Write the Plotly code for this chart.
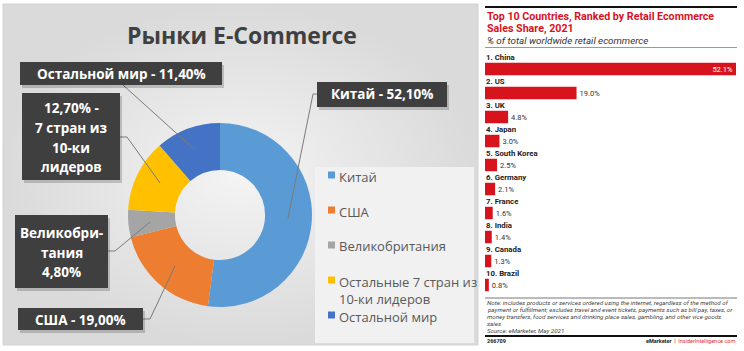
import plotly.graph_objects as go

W, H = 744, 351

# ---------------- data ----------------
pie_labels = ['Китай', 'США', 'Великобритания', 'Остальные 7 стран из 10-ки лидеров', 'Остальной мир']
pie_shares = [52.1, 19.0, 4.8, 12.7, 11.4]
pie_colors = ['#5B9BD5', '#ED7D31', '#A5A5A5', '#FFC000', '#4472C4']
legend_texts = ['Китай', 'США', 'Великобритания', 'Остальные 7 стран из<br>10-ки лидеров', 'Остальной мир']

def pct(v):
    return f"{v:.2f}".replace('.', ',') + '%'

callout_lines = [
    [f'Китай - {pct(pie_shares[0])}'],
    [f'США - {pct(pie_shares[1])}'],
    ['Великобри-', 'тания', pct(pie_shares[2])],
    [f'{pct(pie_shares[3])} -', '7 стран из', '10-ки', 'лидеров'],
    [f'Остальной мир - {pct(pie_shares[4])}'],
]

countries = ['China', 'US', 'UK', 'Japan', 'South Korea', 'Germany', 'France', 'India', 'Canada', 'Brazil']
bar_values = [52.1, 19.0, 4.8, 3.0, 2.5, 2.1, 1.6, 1.4, 1.3, 0.8]

note_lines = [
    'Note: includes products or services ordered using the internet, regardless of the method of',
    'payment or fulfillment; excludes travel and event tickets, payments such as bill pay, taxes, or',
    'money transfers, food services and drinking place sales, gambling, and other vice goods',
    'sales',
    'Source: eMarketer, May 2021',
]

# ---------------- layout helpers (pixel -> paper) ----------------
def px(x):
    return x / W

def py(y):
    return 1 - y / H

FONT = 'Open Sans'
RFONT = 'Roboto'
RED = '#D7141E'

fig = go.Figure()

# background panel with radial gradient (pixel coordinate axes x2/y2)
fig.add_trace(go.Scatter(
    x=[3, 478, 478, 3, 3], y=[4, 4, 345, 345, 4], xaxis='x2', yaxis='y2',
    mode='lines', line=dict(width=1, color='#d2d2d2'), fill='toself',
    fillgradient=dict(type='radial', colorscale=[[0, '#f4f4f4'], [1, '#dadada']]),
    hoverinfo='skip', showlegend=False))

# bars
fig.add_trace(go.Bar(
    x=bar_values, y=list(range(len(countries))), orientation='h',
    marker=dict(color=RED, line=dict(width=0)), width=0.52,
    text=[f'{v:.1f}%' for v in bar_values],
    textposition=['inside'] + ['outside'] * (len(bar_values) - 1),
    insidetextanchor='end', textangle=0, constraintext='none',
    textfont=dict(family=RFONT, size=7.5, color=['white'] + ['#333333'] * (len(bar_values) - 1)),
    cliponaxis=False, showlegend=False, hoverinfo='skip'))

# donut
fig.add_trace(go.Pie(
    labels=pie_labels, values=pie_shares, hole=0.49, sort=False, direction='clockwise',
    rotation=0, marker=dict(colors=pie_colors, line=dict(width=0)), textinfo='none',
    domain=dict(x=[px(128), px(312)], y=[py(307), py(123)]), showlegend=False, hoverinfo='skip'))

shapes = []
annotations = []

# legend box (lighter)
shapes.append(dict(type='rect', xref='paper', yref='paper', x0=px(315), x1=px(474), y0=py(343), y1=py(167),
                   fillcolor='#f1f1f1', line=dict(width=0), layer='above'))

# title
annotations.append(dict(text='<b>Рынки E-Commerce</b>', x=px(242), y=py(35), xref='paper', yref='paper',
                        showarrow=False, font=dict(family=FONT, size=23, color='#404040'),
                        xanchor='center', yanchor='middle'))

# legend entries
legend_y = [175, 210, 245, 280, 315]
for i, (t, c) in enumerate(zip(legend_texts, pie_colors)):
    yc = legend_y[i]
    shapes.append(dict(type='rect', xref='paper', yref='paper', x0=px(328), x1=px(335), y0=py(yc + 3.5), y1=py(yc - 3.5),
                       fillcolor=c, line=dict(width=0), layer='above'))
    annotations.append(dict(text=t, x=px(337), y=py(yc - 9.5), xref='paper', yref='paper', showarrow=False,
                            xanchor='left', yanchor='top', align='left',
                            font=dict(family=FONT, size=13, color='#595959')))

# callout boxes
boxes = [(317, 82, 447, 107), (18, 308, 143, 330), (15, 215, 108, 288), (22, 93, 120, 180), (20, 62, 222, 85)]
line_ys = [[94.5], [319.5], [233, 252.5, 272], [108, 128, 148, 167], [73.5]]
leaders = [
    [(317, 94), (313, 94), (288, 218)],
    [(143, 319), (150, 319), (175, 266)],
    [(108, 251), (115, 251), (150, 222)],
    [(120, 137), (127, 137), (160, 183)],
    [(123, 85), (195, 150)],
]
for pts in leaders:
    path = 'M ' + ' L '.join(f'{px(x)},{py(y)}' for x, y in pts)
    shapes.append(dict(type='path', xref='paper', yref='paper', path=path,
                       line=dict(color='#7a7a7a', width=1), layer='above'))
for (x0, y0, x1, y1), lines, ys in zip(boxes, callout_lines, line_ys):
    shapes.append(dict(type='rect', xref='paper', yref='paper', x0=px(x0 + 2), x1=px(x1 + 2), y0=py(y1 + 3), y1=py(y0 + 3),
                       fillcolor='rgba(0,0,0,0.18)', line=dict(width=0), layer='above'))
    shapes.append(dict(type='rect', xref='paper', yref='paper', x0=px(x0), x1=px(x1), y0=py(y1), y1=py(y0),
                       fillcolor='#3f3f3f', line=dict(width=0), layer='above'))
    xc = (x0 + x1) / 2
    for t, yy in zip(lines, ys):
        annotations.append(dict(text=f'<b>{t}</b>', x=px(xc), y=py(yy), xref='paper', yref='paper', showarrow=False,
                                xanchor='center', yanchor='middle',
                                font=dict(family=FONT, size=13.5, color='white')))

# ---------------- right panel ----------------
shapes.append(dict(type='line', xref='paper', yref='paper', x0=px(485), x1=px(737), y0=py(7), y1=py(7),
                   line=dict(color='#111111', width=2)))
shapes.append(dict(type='line', xref='paper', yref='paper', x0=px(485), x1=px(737), y0=py(47.5), y1=py(47.5),
                   line=dict(color='#999999', width=1)))
shapes.append(dict(type='line', xref='paper', yref='paper', x0=px(485), x1=px(737), y0=py(298), y1=py(298),
                   line=dict(color='#777777', width=1)))
shapes.append(dict(type='line', xref='paper', yref='paper', x0=px(485), x1=px(737), y0=py(336), y1=py(336),
                   line=dict(color='#111111', width=2)))

annotations.append(dict(text='<b>Top 10 Countries, Ranked by Retail Ecommerce</b>', x=px(485), y=py(16),
                        xref='paper', yref='paper', showarrow=False, xanchor='left', yanchor='middle',
                        font=dict(family=RFONT, size=10.7, color=RED)))
annotations.append(dict(text='<b>Sales Share, 2021</b>', x=px(485), y=py(28),
                        xref='paper', yref='paper', showarrow=False, xanchor='left', yanchor='middle',
                        font=dict(family=RFONT, size=10.7, color=RED)))
annotations.append(dict(text='<i>% of total worldwide retail ecommerce</i>', x=px(485), y=py(40.5),
                        xref='paper', yref='paper', showarrow=False, xanchor='left', yanchor='middle',
                        font=dict(family=RFONT, size=9.8, color='#333333')))

for i, name in enumerate(countries):
    annotations.append(dict(text=f'<b>{i + 1}. {name}</b>', x=0, y=i - 0.47, xref='x', yref='y', showarrow=False,
                            xanchor='left', yanchor='middle', xshift=-1,
                            font=dict(family=RFONT, size=7.8, color='#222222')))

note_y = [302.5, 309.5, 316.5, 323.5, 330.5]
for t, yy in zip(note_lines, note_y):
    annotations.append(dict(text=f'<i>{t}</i>', x=px(485), y=py(yy), xref='paper', yref='paper', showarrow=False,
                            xanchor='left', yanchor='middle', font=dict(family=RFONT, size=6.2, color='#444444')))

annotations.append(dict(text='<b>266709</b>', x=px(485), y=py(341), xref='paper', yref='paper', showarrow=False,
                        xanchor='left', yanchor='middle', font=dict(family=RFONT, size=5.5, color='#222222')))
annotations.append(dict(text='<b>eMarketer</b>  |  <span style="color:#E0303A">InsiderIntelligence.com</span>',
                        x=px(737), y=py(341), xref='paper', yref='paper', showarrow=False,
                        xanchor='right', yanchor='middle', font=dict(family=RFONT, size=5.5, color='#222222')))

fig.update_layout(
    width=W, height=H, margin=dict(l=0, r=0, t=0, b=0),
    paper_bgcolor='white', plot_bgcolor='rgba(0,0,0,0)',
    showlegend=False,
    xaxis=dict(domain=[px(485), px(736)], range=[0, max(bar_values)], visible=False, fixedrange=True),
    yaxis=dict(domain=[py(297), py(57)], range=[len(countries) - 0.5, -0.5], visible=False, fixedrange=True),
    xaxis2=dict(domain=[0, 1], range=[0, W], visible=False, anchor='y2', fixedrange=True),
    yaxis2=dict(domain=[0, 1], range=[H, 0], visible=False, anchor='x2', fixedrange=True),
    shapes=shapes, annotations=annotations,
)

fig.write_html('out.html')
